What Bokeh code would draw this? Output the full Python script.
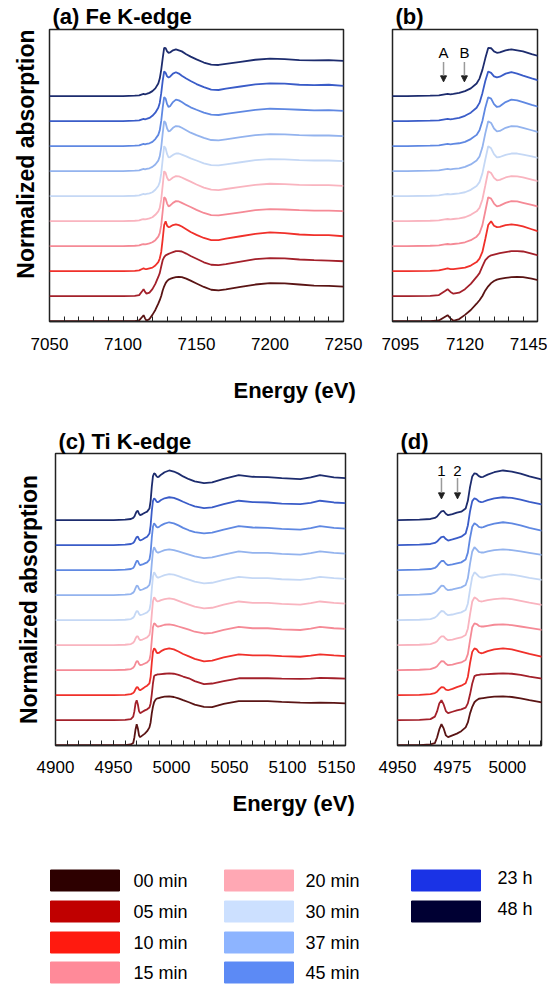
import numpy as np
from bokeh.plotting import figure
from bokeh.layouts import column, row
from bokeh.models import Range1d, FixedTicker, Label, Arrow, NormalHead, ColumnDataSource, Title
from bokeh.core.properties import value
from bokeh.embed import file_html
from bokeh.resources import INLINE

# ---------------- data ----------------
SERIES = ["00 min", "05 min", "10 min", "15 min", "20 min",
          "30 min", "37 min", "45 min", "23 h", "48 h"]
SWATCH_COLORS = ["#2d0000", "#c00000", "#ff1a0f", "#ff8a99", "#ffa8b4",
                 "#cce0ff", "#8db4ff", "#5c8af5", "#1a33e6", "#000033"]
LINE_COLORS = ["#5a1414", "#a3202a", "#f0302a", "#f58a96", "#f9b4bf",
               "#c5d8f5", "#93b3ee", "#5f88e2", "#3a5cc8", "#1d2c6e"]

FE_ENERGY = [7050, 7100, 7108, 7111, 7113, 7114, 7115, 7116, 7118, 7120, 7122, 7124, 7125,
             7126, 7127, 7128, 7129, 7130, 7131, 7132, 7134, 7136, 7138, 7140, 7143, 7146,
             7150, 7155, 7160, 7165, 7170, 7180, 7190, 7200, 7210, 7220, 7230, 7240, 7250]
FE_00 = [0.00, 0.00, 0.00, 0.02, 0.12, 0.17, 0.08, 0.01, 0.06, 0.18, 0.32, 0.50, 0.60,
         0.72, 0.88, 1.00, 1.09, 1.15, 1.19, 1.21, 1.24, 1.26, 1.27, 1.26, 1.22, 1.16,
         1.08, 0.98, 0.90, 0.88, 0.91, 0.98, 1.05, 1.09, 1.08, 1.05, 1.02, 1.01, 0.99]
FE_05 = [0.00, 0.00, 0.01, 0.03, 0.14, 0.20, 0.12, 0.07, 0.10, 0.20, 0.35, 0.55, 0.66,
         0.85, 1.03, 1.12, 1.17, 1.19, 1.21, 1.23, 1.26, 1.29, 1.29, 1.28, 1.22, 1.15,
         1.07, 0.97, 0.90, 0.89, 0.92, 0.99, 1.06, 1.09, 1.08, 1.05, 1.03, 1.02, 1.00]
FE_10 = [0.00, 0.00, 0.01, 0.02, 0.06, 0.08, 0.06, 0.06, 0.08, 0.10, 0.16, 0.26, 0.36,
         0.55, 0.92, 1.32, 1.43, 1.30, 1.26, 1.27, 1.32, 1.34, 1.32, 1.28, 1.20, 1.12,
         1.04, 0.95, 0.89, 0.89, 0.93, 1.00, 1.07, 1.11, 1.09, 1.05, 1.03, 1.03, 1.00]
FE_15 = [0.00, 0.00, 0.01, 0.02, 0.05, 0.06, 0.05, 0.06, 0.08, 0.11, 0.17, 0.27, 0.37,
         0.60, 1.00, 1.40, 1.36, 1.22, 1.14, 1.16, 1.24, 1.29, 1.28, 1.24, 1.18, 1.12,
         1.04, 0.95, 0.89, 0.88, 0.91, 0.97, 1.03, 1.06, 1.05, 1.03, 1.02, 1.02, 1.00]
FE_20 = [0.00, 0.00, 0.01, 0.02, 0.05, 0.06, 0.05, 0.06, 0.08, 0.11, 0.18, 0.28, 0.38,
         0.62, 1.02, 1.43, 1.38, 1.24, 1.17, 1.18, 1.25, 1.29, 1.28, 1.25, 1.19, 1.13,
         1.05, 0.96, 0.90, 0.89, 0.92, 0.98, 1.04, 1.07, 1.06, 1.04, 1.03, 1.03, 1.01]
FE_30 = [0.00, 0.00, 0.01, 0.02, 0.05, 0.06, 0.05, 0.06, 0.08, 0.11, 0.18, 0.29, 0.40,
         0.65, 1.05, 1.43, 1.37, 1.20, 1.11, 1.12, 1.18, 1.22, 1.22, 1.19, 1.14, 1.08,
         1.02, 0.94, 0.89, 0.88, 0.91, 0.97, 1.03, 1.06, 1.05, 1.03, 1.02, 1.02, 1.00]
FE_37 = [0.00, 0.00, 0.01, 0.02, 0.05, 0.06, 0.05, 0.06, 0.08, 0.12, 0.19, 0.30, 0.42,
         0.68, 1.08, 1.43, 1.38, 1.22, 1.14, 1.15, 1.24, 1.29, 1.28, 1.24, 1.17, 1.10,
         1.03, 0.95, 0.89, 0.88, 0.91, 0.97, 1.03, 1.06, 1.05, 1.03, 1.02, 1.02, 1.00]
FE_45 = [0.00, 0.00, 0.01, 0.02, 0.05, 0.06, 0.05, 0.06, 0.08, 0.12, 0.20, 0.32, 0.45,
         0.72, 1.10, 1.40, 1.36, 1.20, 1.12, 1.14, 1.26, 1.33, 1.31, 1.26, 1.18, 1.11,
         1.04, 0.96, 0.90, 0.89, 0.92, 0.98, 1.04, 1.07, 1.06, 1.04, 1.02, 1.03, 1.01]
FE_23H = [0.00, 0.00, 0.01, 0.02, 0.05, 0.06, 0.05, 0.06, 0.09, 0.15, 0.24, 0.38, 0.52,
          0.80, 1.15, 1.42, 1.38, 1.28, 1.25, 1.27, 1.36, 1.40, 1.36, 1.30, 1.22, 1.15,
          1.06, 0.97, 0.90, 0.89, 0.93, 0.99, 1.05, 1.08, 1.07, 1.04, 1.03, 1.04, 1.01]
FE_48H = [0.00, 0.00, 0.01, 0.02, 0.05, 0.06, 0.05, 0.06, 0.09, 0.14, 0.22, 0.36, 0.50,
          0.75, 1.08, 1.38, 1.37, 1.28, 1.24, 1.25, 1.31, 1.34, 1.31, 1.28, 1.20, 1.13,
          1.05, 0.96, 0.90, 0.89, 0.92, 0.98, 1.04, 1.07, 1.06, 1.03, 1.02, 1.03, 1.01]

TI_ENERGY = [4900, 4950, 4960, 4965, 4967, 4968, 4969, 4970, 4971, 4972, 4973, 4975, 4977,
             4979, 4981, 4982, 4983, 4984, 4985, 4986, 4987, 4988, 4989, 4991, 4994, 4998,
             5002, 5006, 5010, 5015, 5020, 5028, 5035, 5045, 5058, 5070, 5083, 5095, 5111,
             5120, 5128, 5140, 5150]
TI_00 = [0.00, 0.00, 0.00, 0.02, 0.06, 0.22, 0.45, 0.60, 0.48, 0.28, 0.23, 0.28, 0.33,
         0.40, 0.51, 0.65, 0.91, 1.10, 1.23, 1.29, 1.33, 1.34, 1.35, 1.37, 1.39, 1.40,
         1.38, 1.34, 1.29, 1.23, 1.16, 1.10, 1.09, 1.18, 1.26, 1.26, 1.26, 1.24, 1.22,
         1.21, 1.22, 1.21, 1.20]
TI_05 = [0.00, 0.00, 0.01, 0.03, 0.10, 0.25, 0.48, 0.57, 0.45, 0.26, 0.20, 0.24, 0.28,
         0.31, 0.36, 0.48, 0.74, 1.05, 1.26, 1.29, 1.30, 1.31, 1.31, 1.32, 1.33, 1.34,
         1.33, 1.30, 1.25, 1.20, 1.12, 1.03, 1.05, 1.12, 1.20, 1.20, 1.20, 1.19, 1.18,
         1.19, 1.21, 1.20, 1.19]
TI_10 = [0.00, 0.00, 0.01, 0.03, 0.06, 0.10, 0.17, 0.23, 0.22, 0.16, 0.14, 0.18, 0.23,
         0.27, 0.34, 0.52, 0.92, 1.24, 1.34, 1.31, 1.23, 1.20, 1.21, 1.26, 1.31, 1.34,
         1.31, 1.25, 1.18, 1.11, 1.04, 0.97, 0.99, 1.08, 1.17, 1.14, 1.14, 1.12, 1.10,
         1.13, 1.17, 1.14, 1.12]
TI_15 = [0.00, 0.00, 0.01, 0.03, 0.07, 0.11, 0.19, 0.26, 0.25, 0.18, 0.14, 0.16, 0.19,
         0.22, 0.29, 0.46, 0.86, 1.23, 1.34, 1.32, 1.27, 1.25, 1.25, 1.27, 1.30, 1.31,
         1.29, 1.25, 1.21, 1.16, 1.10, 1.05, 1.07, 1.15, 1.24, 1.20, 1.20, 1.17, 1.15,
         1.19, 1.24, 1.20, 1.18]
TI_20 = [0.00, 0.00, 0.01, 0.03, 0.07, 0.11, 0.19, 0.25, 0.25, 0.18, 0.14, 0.16, 0.19,
         0.22, 0.29, 0.47, 0.88, 1.25, 1.37, 1.33, 1.27, 1.25, 1.26, 1.29, 1.32, 1.34,
         1.32, 1.27, 1.22, 1.16, 1.10, 1.05, 1.07, 1.16, 1.25, 1.21, 1.21, 1.18, 1.16,
         1.20, 1.25, 1.21, 1.19]
TI_30 = [0.00, 0.00, 0.01, 0.03, 0.07, 0.12, 0.20, 0.26, 0.25, 0.18, 0.14, 0.16, 0.19,
         0.22, 0.29, 0.47, 0.88, 1.24, 1.37, 1.32, 1.25, 1.22, 1.22, 1.25, 1.29, 1.32,
         1.30, 1.26, 1.21, 1.16, 1.10, 1.05, 1.07, 1.15, 1.24, 1.20, 1.20, 1.17, 1.15,
         1.19, 1.24, 1.20, 1.18]
TI_37 = [0.00, 0.00, 0.01, 0.03, 0.07, 0.12, 0.20, 0.27, 0.26, 0.18, 0.14, 0.16, 0.19,
         0.22, 0.29, 0.48, 0.90, 1.25, 1.37, 1.31, 1.24, 1.22, 1.22, 1.25, 1.29, 1.31,
         1.29, 1.25, 1.21, 1.16, 1.11, 1.06, 1.08, 1.16, 1.25, 1.21, 1.21, 1.18, 1.16,
         1.20, 1.25, 1.21, 1.19]
TI_45 = [0.00, 0.00, 0.01, 0.03, 0.06, 0.11, 0.19, 0.26, 0.26, 0.18, 0.14, 0.16, 0.19,
         0.22, 0.30, 0.50, 0.92, 1.24, 1.34, 1.30, 1.24, 1.22, 1.23, 1.28, 1.33, 1.37,
         1.34, 1.28, 1.21, 1.14, 1.09, 1.05, 1.07, 1.16, 1.26, 1.22, 1.21, 1.18, 1.16,
         1.20, 1.26, 1.21, 1.19]
TI_23H = [0.00, 0.00, 0.01, 0.03, 0.06, 0.10, 0.17, 0.23, 0.24, 0.17, 0.13, 0.16, 0.20,
          0.24, 0.33, 0.56, 0.97, 1.26, 1.34, 1.31, 1.25, 1.23, 1.24, 1.29, 1.34, 1.37,
          1.35, 1.30, 1.24, 1.17, 1.11, 1.06, 1.08, 1.17, 1.27, 1.23, 1.22, 1.19, 1.17,
          1.21, 1.27, 1.22, 1.20]
TI_48H = [0.00, 0.00, 0.01, 0.03, 0.06, 0.10, 0.18, 0.25, 0.26, 0.18, 0.14, 0.17, 0.21,
          0.24, 0.33, 0.55, 0.95, 1.25, 1.34, 1.32, 1.26, 1.23, 1.24, 1.30, 1.37, 1.42,
          1.39, 1.33, 1.25, 1.17, 1.11, 1.06, 1.08, 1.18, 1.29, 1.24, 1.23, 1.20, 1.17,
          1.22, 1.29, 1.22, 1.20]

FE_CURVES = [FE_00, FE_05, FE_10, FE_15, FE_20, FE_30, FE_37, FE_45, FE_23H, FE_48H]
TI_CURVES = [TI_00, TI_05, TI_10, TI_15, TI_20, TI_30, TI_37, TI_45, TI_23H, TI_48H]

# tick labels
FE_A_TICKS = [7050, 7100, 7150, 7200, 7250]
FE_B_TICKS = [7095, 7120, 7145]
TI_C_TICKS = [4900, 4950, 5000, 5050, 5100, 5150]
TI_D_TICKS = [4950, 4975, 5000]

# annotated pre-edge features
FE_MARKS = ["A", "B"]
FE_MARK_E = [7112.6, 7119.8]
TI_MARKS = ["1", "2"]
TI_MARK_E = [4970.0, 4977.3]

# ---------------- style ----------------
OFFSET = 0.717
YR = (-0.01, 8.36)
FONT = "Liberation Sans"
FRAME = "#222222"


def panel(width, height, bl, br, bt, bb, xr, ticks, minor, standoff, energy, curves):
    p = figure(width=width, height=height, x_range=Range1d(*xr), y_range=Range1d(*YR),
               y_axis_location=None, toolbar_location=None, output_backend="svg",
               min_border_left=bl, min_border_right=br, min_border_top=bt,
               min_border_bottom=bb, background_fill_color="white",
               border_fill_color="white")
    p.xgrid.visible = False
    p.ygrid.visible = False
    p.outline_line_color = FRAME
    p.outline_line_width = 1.5
    ax = p.xaxis[0]
    ax.ticker = FixedTicker(ticks=ticks, minor_ticks=minor)
    ax.axis_line_color = FRAME
    ax.axis_line_width = 1.5
    ax.major_tick_in = 5
    ax.major_tick_out = 0
    ax.minor_tick_in = 5
    ax.minor_tick_out = 0
    ax.major_tick_line_color = FRAME
    ax.minor_tick_line_color = FRAME
    ax.major_label_text_font = FONT
    ax.major_label_text_font_size = "17px"
    ax.major_label_text_color = "black"
    ax.major_label_standoff = standoff
    for i, (c, col) in enumerate(zip(curves, LINE_COLORS)):
        y = np.array(c) + i * OFFSET
        p.line(energy, y, line_color=col, line_width=1.8)
    return p


def add_title(p, text, place, size="22px", align="left", offset=0, standoff=0):
    p.add_layout(Title(text=text, align=align, offset=offset, standoff=standoff,
                       text_font=FONT, text_font_size=size, text_font_style="bold",
                       text_color="black"), place)


def add_marks(p, names, energies, y_text, y0, y1):
    for n, e in zip(names, energies):
        p.add_layout(Label(x=e, y=y_text, text=n, text_font=FONT, text_font_size="15px",
                           text_color="black", text_align="center", text_baseline="middle"))
        p.add_layout(Arrow(end=NormalHead(size=6, fill_color="#222222", line_color="#222222"),
                           x_start=e, y_start=y0, x_end=e, y_end=y1,
                           line_color="#9a9a9a", line_width=1.5))


# top row (Fe)
pa = panel(381, 426, 49, 38, 29, 104, (7050, 7250), FE_A_TICKS,
           list(range(7050, 7251, 10)), 16, FE_ENERGY, FE_CURVES)
pb = panel(166, 426, 11, 10, 29, 104, (7095, 7145), FE_B_TICKS,
           list(range(7095, 7146, 5)), 16, FE_ENERGY, FE_CURVES)
add_title(pa, "(a) Fe K-edge", "above", offset=3, standoff=1)
add_title(pb, "(b)", "above", offset=3, standoff=1)
add_title(pa, "Normalized absorption", "left", size="23px", align="right", offset=0, standoff=21)
add_title(pa, "Energy (eV)", "below", align="left", offset=184, standoff=47)
add_marks(pb, FE_MARKS, FE_MARK_E, 7.69, 7.43, 6.86)

# bottom row (Ti)
pc = panel(355, 410, 55, 10, 26, 91, (4900, 5150), TI_C_TICKS,
           list(range(4900, 5151, 10)), 15, TI_ENERGY, TI_CURVES)
pd = panel(196, 410, 42, 10, 26, 91, (4950, 5015.5), TI_D_TICKS,
           list(range(4950, 5016, 5)), 15, TI_ENERGY, TI_CURVES)
add_title(pc, "(c) Ti K-edge", "above", offset=3, standoff=0)
add_title(pd, "(d)", "above", offset=3, standoff=0)
add_title(pc, "Normalized absorption", "left", size="23px", align="center", offset=0, standoff=27)
add_title(pc, "Energy (eV)", "below", align="left", offset=177, standoff=27)
add_marks(pd, TI_MARKS, TI_MARK_E, 7.86, 7.66, 7.06)

# legend
LEG_H = 151
leg = figure(width=551, height=LEG_H, x_range=Range1d(0, 551), y_range=Range1d(LEG_H, 0),
             x_axis_location=None, y_axis_location=None, toolbar_location=None,
             output_backend="svg", min_border=0, outline_line_color=None,
             background_fill_color="white", border_fill_color="white")
leg.xgrid.visible = False
leg.ygrid.visible = False
sw_x = [84.5, 258.5, 445.5]
tx_x = [133, 305, 497]
row_y = [44, 75, 106, 136]
cols = [i // 4 for i in range(len(SERIES))]
rows = [i % 4 for i in range(len(SERIES))]
src = ColumnDataSource(dict(
    sx=[sw_x[c] for c in cols], tx=[tx_x[c] for c in cols],
    y=[row_y[r] for r in rows], ty=[row_y[r] - (3 if c == 2 else 0) for r, c in zip(rows, cols)],
    name=SERIES, color=SWATCH_COLORS))
leg.rect(x="sx", y="y", width=69, height=21, fill_color="color", line_color="color",
         source=src)
leg.text(x="tx", y="ty", text="name", source=src, text_font=value(FONT),
         text_font_size="18px", text_baseline="middle", text_align="left", text_color="black")

layout = column(row(pa, pb), row(pc, pd), leg)
open("out.html", "w").write(file_html(layout, INLINE))
